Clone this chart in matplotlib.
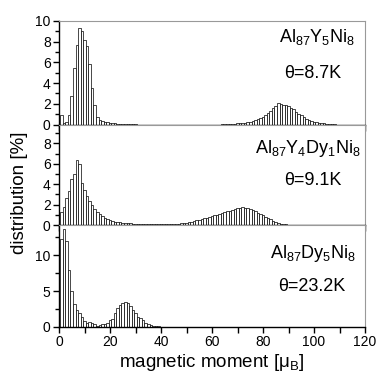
import numpy as np
import matplotlib.pyplot as plt
from matplotlib.ticker import MultipleLocator

plt.rcParams['font.family'] = ['Liberation Sans', 'DejaVu Sans']
plt.rcParams['mathtext.fontset'] = 'custom'
plt.rcParams['mathtext.rm'] = 'Liberation Sans'
plt.rcParams['mathtext.it'] = 'Liberation Sans'

# distribution [%] per 1 muB bin
# Al87Y5Ni8
top_start1 = 1
top_h1 = [0.9, 0.12, 0.2, 0.9, 2.8, 5.5, 7.7, 9.3, 9.0, 8.2, 7.55, 5.8, 3.5, 1.9, 0.75,
          0.45, 0.35, 0.25, 0.2, 0.15, 0.12, 0.1, 0.08, 0.06, 0.05, 0.04, 0.03, 0.03, 0.02, 0.02]
top_start2 = 64
top_h2 = [0.02, 0.03, 0.03, 0.05, 0.06, 0.08, 0.1, 0.12, 0.14, 0.17, 0.2, 0.25, 0.32, 0.4,
          0.55, 0.65, 0.75, 0.95, 1.1, 1.35, 1.6, 1.8, 2.05, 1.95, 1.9, 1.85, 1.75, 1.6, 1.5,
          1.2, 1.0, 0.9, 0.75, 0.5, 0.4, 0.3, 0.25, 0.2, 0.15, 0.12, 0.1, 0.08, 0.06, 0.05, 0.04]

# Al87Y4Dy1Ni8
mid_start1 = 1
mid_h1 = [1.25, 1.75, 2.6, 3.3, 4.5, 5.0, 6.4, 5.95, 4.1, 3.45, 2.8, 2.4, 2.0, 1.6, 1.25,
          1.05, 0.85, 0.68, 0.55, 0.45, 0.38, 0.33, 0.3, 0.27, 0.24, 0.2, 0.18, 0.15, 0.13,
          0.12, 0.11, 0.1, 0.1, 0.09, 0.09, 0.08, 0.08, 0.07, 0.07, 0.07, 0.06, 0.06, 0.06, 0.07]
mid_start2 = 45
mid_h2 = [0.08, 0.1, 0.12, 0.15, 0.18, 0.22, 0.27, 0.32, 0.38, 0.45, 0.52, 0.6, 0.67, 0.73,
          0.8, 0.88, 0.95, 1.02, 1.1, 1.18, 1.26, 1.33, 1.4, 1.5, 1.58, 1.65, 1.7, 1.75, 1.7,
          1.62, 1.55, 1.45, 1.35, 1.2, 1.08, 0.95, 0.82, 0.68, 0.55, 0.42, 0.3, 0.2, 0.13,
          0.08, 0.05, 0.03]

# Al87Dy5Ni8
bot_start1 = 1
bot_h1 = [12.2, 13.6, 12.0, 8.0, 5.0, 3.2, 2.35, 1.9, 1.35, 0.9, 0.6, 0.65, 0.5, 0.35, 0.2,
          0.25, 0.35, 0.45, 0.6, 1.0, 1.1, 1.9, 2.6, 3.05, 3.3, 3.45, 3.3, 2.9, 2.35, 1.9,
          1.45, 1.2, 0.95, 0.6, 0.4, 0.25, 0.15, 0.1, 0.08, 0.06, 0.05, 0.04, 0.03, 0.02]

names = [r'Al$_{87}$Y$_5$Ni$_8$', r'Al$_{87}$Y$_4$Dy$_1$Ni$_8$', r'Al$_{87}$Dy$_5$Ni$_8$']
temps = ['\u03b8=8.7K', '\u03b8=9.1K', '\u03b8=23.2K']

fig = plt.figure(figsize=(3.77, 3.82), dpi=100)
left, right = 59 / 377, 365 / 377
tops = [21, 124.5, 225]
bots = [124.5, 225, 327]

series = [
    [(top_start1, top_h1), (top_start2, top_h2)],
    [(mid_start1, mid_h1), (mid_start2, mid_h2)],
    [(bot_start1, bot_h1)],
]
ylims = [(0, 10), (0, 9.85), (0, 14.2)]
ymaj = [2, 2, 5]
ymin = [1, 1, 2.5]
name_x = [0.843, 0.812, 0.829]
temp_x = [0.830, 0.828, 0.827]
name_y = [0.80, 0.712, 0.674]
temp_y = [0.447, 0.395, 0.356]

axes = []
for i in range(3):
    ax = fig.add_axes([left, 1 - bots[i] / 382, right - left, (bots[i] - tops[i]) / 382])
    axes.append(ax)
    for start, h in series[i]:
        x = start + np.arange(len(h))
        ax.bar(x, h, width=1.0, facecolor='white', edgecolor='black', linewidth=0.5)
    ax.set_xlim(0, 120)
    ax.set_ylim(*ylims[i])
    ax.xaxis.set_major_locator(MultipleLocator(20))
    ax.xaxis.set_minor_locator(MultipleLocator(10))
    ax.yaxis.set_major_locator(MultipleLocator(ymaj[i]))
    ax.yaxis.set_minor_locator(MultipleLocator(ymin[i]))
    ax.tick_params(which='major', direction='out', length=4, width=1, labelsize=10, pad=2)
    ax.tick_params(which='minor', direction='out', length=3, width=1)
    ax.tick_params(axis='x', which='both', length=4)
    for s in ['top', 'right']:
        ax.spines[s].set_color('0.6')
        ax.spines[s].set_linewidth(0.8)
    for s in ['left', 'bottom']:
        ax.spines[s].set_linewidth(1.0)
    if i < 2:
        ax.tick_params(axis='x', labelbottom=False)
    ax.text(name_x[i], name_y[i], names[i], transform=ax.transAxes, ha='center',
            va='baseline', fontsize=13)
    ax.text(temp_x[i], temp_y[i], temps[i], transform=ax.transAxes, ha='center',
            va='baseline', fontsize=13)

axes[1].set_yticks([0, 2, 4, 6, 8])
axes[2].set_xlabel('magnetic moment [\u03bc$_\\mathrm{B}$]', fontsize=13.5, labelpad=2)
fig.text(20 / 377, 1 - 193 / 382, 'distribution [%]', rotation=90, ha='center',
         va='center', fontsize=13.5)

fig.savefig('out.png', dpi=100)
